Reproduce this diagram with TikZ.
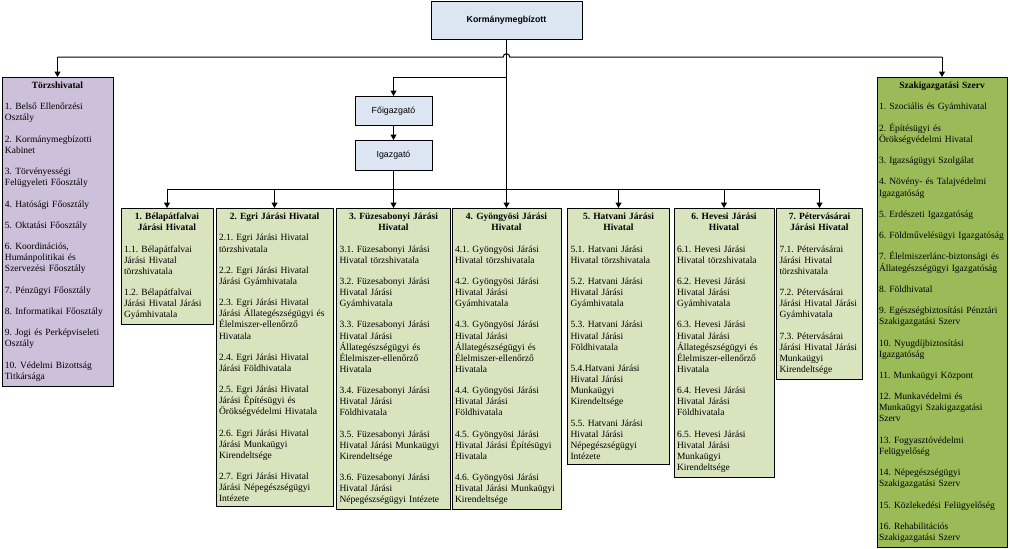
\documentclass[tikz,border=0pt]{standalone}
\usepackage{fontspec}
\setmainfont{Liberation Serif}
\newfontfamily\arialf{Liberation Sans}
\usetikzlibrary{arrows.meta}
\setlength{\parindent}{0pt}
\setlength{\parskip}{0pt}
\frenchspacing
\definecolor{grn}{HTML}{D7E4BD}
\definecolor{dgrn}{HTML}{9BBB59}
\definecolor{lav}{HTML}{CCC0DA}
\definecolor{blu}{HTML}{DCE6F2}
\newlength\itemgap \setlength\itemgap{10.2pt}
\newcommand\btitle[1]{{\centering\bfseries #1\par}}
\newcommand\bitem[1]{\vspace{\itemgap}{\raggedright #1\par}}
\tikzset{
  dbox/.style={draw=black, line width=0.8pt, anchor=north, inner xsep=3pt, inner ysep=4.6pt,
    font=\fontsize{9.5}{11.1}\selectfont\frenchspacing, text width=#1},
  tbox/.style={draw=black, line width=0.8pt, fill=blu, anchor=north, inner sep=0pt,
    font=\arialf\fontsize{8.8}{10}\selectfont},
  ln/.style={line width=1pt},
  arr/.style={line width=1pt, -{Triangle[width=6pt,length=5.5pt]}}
}
\begin{document}
\begin{tikzpicture}[x=1pt,y=-1pt]
\useasboundingbox (0,0) rectangle (1010,549);
\coordinate (topbar) at (0,57);
\coordinate (midbar) at (0,77);
\coordinate (bar) at (0,189);

\node[tbox, minimum width=151, minimum height=38] (K) at (506.5,0.6) {\bfseries Kormánymegbízott};
\node[tbox, minimum width=77, minimum height=29] (F) at (393.5,96) {Főigazgató};
\node[tbox, minimum width=77, minimum height=30] (I) at (393.5,140) {Igazgató};

\node[dbox=105, fill=lav] (L) at (57.5,77) {\btitle{Törzshivatal}
\bitem{1. Belső Ellenőrzési\\Osztály}
\bitem{2. Kormánymegbízotti\\Kabinet}
\bitem{3. Törvényességi\\Felügyeleti Főosztály}
\bitem{4. Hatósági Főosztály}
\bitem{5. Oktatási Főosztály}
\bitem{6. Koordinációs,\\Humánpolitikai és\\Szervezési Főosztály}
\bitem{7. Pénzügyi Főosztály}
\bitem{8. Informatikai Főosztály}
\bitem{9. Jogi és Perképviseleti\\Osztály}
\bitem{10. Védelmi Bizottság\\Titkársága}};

\node[dbox=126, fill=dgrn, inner xsep=2pt] (R) at (942,77) {\btitle{Szakigazgatási Szerv}
\bitem{1. Szociális és Gyámhivatal}
\bitem{2. Építésügyi és\\Örökségvédelmi Hivatal}
\bitem{3. Igazságügyi Szolgálat}
\bitem{4. Növény- és Talajvédelmi\\Igazgatóság}
\bitem{5. Erdészeti Igazgatóság}
\bitem{6. Földművelésügyi Igazgatóság}
\bitem{7. Élelmiszerlánc-biztonsági és\\Állategészségügyi Igazgatóság}
\bitem{8. Földhivatal}
\bitem{9. Egészségbiztosítási Pénztári\\Szakigazgatási Szerv}
\bitem{10. Nyugdíjbiztosítási\\Igazgatóság}
\bitem{11. Munkaügyi Központ}
\bitem{12. Munkavédelmi és\\Munkaügyi Szakigazgatási\\Szerv}
\bitem{13. Fogyasztóvédelmi\\Felügyelőség}
\bitem{14. Népegészségügyi\\Szakigazgatási Szerv}
\bitem{15. Közlekedési Felügyelőség}
\bitem{16. Rehabilitációs\\Szakigazgatási Szerv}};

\node[dbox=86, fill=grn] (c1) at (167,208) {\btitle{1. Bélapátfalvai\\Járási Hivatal}
\bitem{1.1. Bélapátfalvai\\Járási Hivatal\\törzshivatala}
\bitem{1.2. Bélapátfalvai\\Járási Hivatal Járási\\Gyámhivatala}};

\node[dbox=111, fill=grn] (c2) at (274.5,208) {\btitle{2. Egri Járási Hivatal}
\bitem{2.1. Egri Járási Hivatal\\törzshivatala}
\bitem{2.2. Egri Járási Hivatal\\Járási Gyámhivatala}
\bitem{2.3. Egri Járási Hivatal\\Járási Állategészségügyi és\\Élelmiszer-ellenőrző\\Hivatala}
\bitem{2.4. Egri Járási Hivatal\\Járási Földhivatala}
\bitem{2.5. Egri Járási Hivatal\\Járási Építésügyi és\\Örökségvédelmi Hivatala}
\bitem{2.6. Egri Járási Hivatal\\Járási Munkaügyi\\Kirendeltsége}
\bitem{2.7. Egri Járási Hivatal\\Járási Népegészségügyi\\Intézete}};

\node[dbox=108, fill=grn] (c3) at (393.5,208) {\btitle{3. Füzesabonyi Járási\\Hivatal}
\bitem{3.1. Füzesabonyi Járási\\Hivatal törzshivatala}
\bitem{3.2. Füzesabonyi Járási\\Hivatal Járási\\Gyámhivatala}
\bitem{3.3. Füzesabonyi Járási\\Hivatal Járási\\Állategészségügyi és\\Élelmiszer-ellenőrző\\Hivatala}
\bitem{3.4. Füzesabonyi Járási\\Hivatal Járási\\Földhivatala}
\bitem{3.5. Füzesabonyi Járási\\Hivatal Járási Munkaügyi\\Kirendeltsége}
\bitem{3.6. Füzesabonyi Járási\\Hivatal Járási\\Népegészségügyi Intézete}};

\node[dbox=103, fill=grn] (c4) at (506.5,208) {\btitle{4. Gyöngyösi Járási\\Hivatal}
\bitem{4.1. Gyöngyösi Járási\\Hivatal törzshivatala}
\bitem{4.2. Gyöngyösi Járási\\Hivatal Járási\\Gyámhivatala}
\bitem{4.3. Gyöngyösi Járási\\Hivatal Járási\\Állategészségügyi és\\Élelmiszer-ellenőrző\\Hivatala}
\bitem{4.4. Gyöngyösi Járási\\Hivatal Járási\\Földhivatala}
\bitem{4.5. Gyöngyösi Járási\\Hivatal Járási Építésügyi\\Hivatala}
\bitem{4.6. Gyöngyösi Járási\\Hivatal Járási Munkaügyi\\Kirendeltsége}};

\node[dbox=96, fill=grn] (c5) at (618.5,208) {\btitle{5. Hatvani Járási\\Hivatal}
\bitem{5.1. Hatvani Járási\\Hivatal törzshivatala}
\bitem{5.2. Hatvani Járási\\Hivatal Járási\\Gyámhivatala}
\bitem{5.3. Hatvani Járási\\Hivatal Járási\\Földhivatala}
\bitem{5.4.Hatvani Járási\\Hivatal Járási\\Munkaügyi\\Kirendeltsége}
\bitem{5.5. Hatvani Járási\\Hivatal Járási\\Népegészségügyi\\Intézete}};

\node[dbox=94, fill=grn] (c6) at (724,208) {\btitle{6. Hevesi Járási\\Hivatal}
\bitem{6.1. Hevesi Járási\\Hivatal törzshivatala}
\bitem{6.2. Hevesi Járási\\Hivatal Járási\\Gyámhivatala}
\bitem{6.3. Hevesi Járási\\Hivatal Járási\\Állategészségügyi és\\Élelmiszer-ellenőrző\\Hivatala}
\bitem{6.4. Hevesi Járási\\Hivatal Járási\\Földhivatala}
\bitem{6.5. Hevesi Járási\\Hivatal Járási\\Munkaügyi\\Kirendeltsége}};

\node[dbox=80, fill=grn] (c7) at (819.5,208) {\btitle{7. Pétervásárai\\Járási Hivatal}
\bitem{7.1. Pétervásárai\\Járási Hivatal\\törzshivatala}
\bitem{7.2. Pétervásárai\\Járási Hivatal Járási\\Gyámhivatala}
\bitem{7.3. Pétervásárai\\Járási Hivatal Járási\\Munkaügyi\\Kirendeltsége}};

% top bar with hop over the central line
\draw[ln] (L.north |- topbar) -- ([xshift=-3.3pt]K.south |- topbar)
  arc[start angle=180, end angle=360, radius=3.3] -- (R.north |- topbar);
\draw[arr] (L.north |- topbar) -- (L.north);
\draw[arr] (R.north |- topbar) -- (R.north);
% central line down to district 4
\draw[arr] (K.south) -- (c4.north);
% branch to Főigazgató
\draw[arr] (K.south |- midbar) -| (F.north);
\draw[arr] (F.south) -- (I.north);
\draw[arr] (I.south) -- (c3.north);
% district bar
\draw[ln] (c1.north |- bar) -- (c7.north |- bar);
\foreach \c in {c1,c2,c5,c6,c7} \draw[arr] (\c.north |- bar) -- (\c.north);
\end{tikzpicture}
\end{document}
